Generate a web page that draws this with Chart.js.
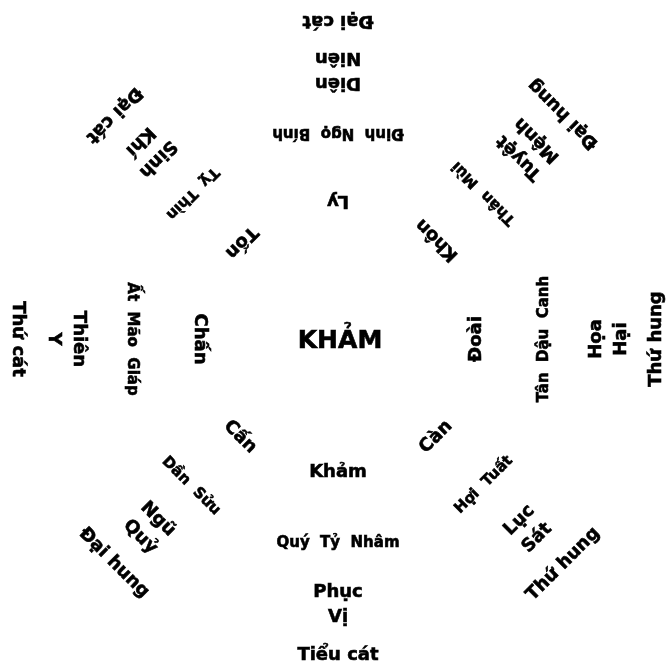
<!DOCTYPE html>
<html lang="vi">
<head>
<meta charset="utf-8">
<title>Bát trạch - Khảm</title>
<script src="https://cdn.jsdelivr.net/npm/chart.js@4.4.1/dist/chart.umd.min.js"></script>
<style>
  html, body { margin: 0; padding: 0; background: #fff; }
  #wrap { width: 671px; height: 670px; position: relative; }
</style>
</head>
<body>
<div id="wrap"><canvas id="chart"></canvas></div>
<script>
const centerLabel = 'KHẢM';

// 8 directions, clockwise starting at the top (Ly)
const trigrams = ['Ly', 'Khôn', 'Đoài', 'Càn', 'Khảm', 'Cấn', 'Chấn', 'Tốn'];
const stems = ['Đinh  Ngọ  Bính', 'Thân  Mùi', 'Tân  Dậu  Canh', 'Hợi  Tuất', 'Quý  Tỷ  Nhâm', 'Dần  Sửu', 'Ất  Mão  Giáp', 'Tỵ  Thìn'];
const stars = [['Diên', 'Niên'], ['Tuyệt', 'Mệnh'], ['Họa', 'Hại'], ['Lục', 'Sát'], ['Phục', 'Vị'], ['Ngũ', 'Quỷ'], ['Thiên', 'Y'], ['Sinh', 'Khí']];
const luck = ['Đại cát', 'Đại hung', 'Thứ hung', 'Thứ hung', 'Tiểu cát', 'Đại hung', 'Thứ cát', 'Đại cát'];

// ring level of each text ring (radial scale 0..100)
const ringTrigram = [42, 42.5, 42, 42, 40.5, 42, 42, 41.5];
const ringStem = [62.5, 62.5, 62.5, 62.5, 62, 63, 62.5, 62.5];
const ringStar = [81.5, 81.5, 82, 81.5, 80.5, 81, 82.5, 81];
const ringLuck = [96.5, 96.5, 96.5, 96.5, 96, 96, 97, 96];

const FONT = '"DejaVu Sans", Verdana, sans-serif';

const rings = [
  { data: ringTrigram, text: trigrams, font: 'bold 18px ' + FONT },
  { data: ringStem, text: stems, font: 'bold 15px ' + FONT },
  { data: ringStar, text: stars, font: 'bold 18px ' + FONT },
  { data: ringLuck, text: luck, font: 'bold 18px ' + FONT },
];

// draws each ring's words at its radar points, turned so the top faces the centre
const ringText = {
  id: 'ringText',
  afterDatasetsDraw(chart) {
    const ctx = chart.ctx;
    const scale = chart.scales.r;
    ctx.save();
    ctx.fillStyle = '#000';
    ctx.strokeStyle = '#000';
    ctx.lineWidth = 0.6;
    ctx.textAlign = 'center';
    ctx.textBaseline = 'middle';

    rings.forEach((ring, d) => {
      const meta = chart.getDatasetMeta(d);
      ctx.font = ring.font;
      meta.data.forEach((pt, i) => {
        const lines = [].concat(ring.text[i]);
        const lh = 25;
        ctx.save();
        ctx.translate(pt.x, pt.y);
        ctx.rotate(scale.getIndexAngle(i) - Math.PI);
        lines.forEach((s, k) => {
          const y = (k - (lines.length - 1) / 2) * lh;
          ctx.fillText(s, 0, y);
          ctx.strokeText(s, 0, y);
        });
        ctx.restore();
      });
    });

    ctx.font = 'bold 25px ' + FONT;
    ctx.fillText(centerLabel, scale.xCenter + 2, scale.yCenter + 2);
    ctx.strokeText(centerLabel, scale.xCenter + 2, scale.yCenter + 2);
    ctx.restore();
  }
};

new Chart(document.getElementById('chart'), {
  type: 'radar',
  data: {
    labels: trigrams,
    datasets: rings.map(r => ({
      data: r.data,
      borderWidth: 0,
      borderColor: 'rgba(0,0,0,0)',
      backgroundColor: 'rgba(0,0,0,0)',
      pointRadius: 0,
      fill: false,
    })),
  },
  options: {
    responsive: true,
    maintainAspectRatio: false,
    animation: false,
    layout: { padding: { left: 5, right: 0, top: 9, bottom: 1 } },
    plugins: {
      legend: { display: false },
      tooltip: { enabled: false },
    },
    scales: {
      r: {
        min: 0,
        max: 100,
        ticks: { display: false },
        grid: { display: false },
        angleLines: { display: false },
        pointLabels: { display: false },
      },
    },
  },
  plugins: [ringText],
});
</script>
</body>
</html>
